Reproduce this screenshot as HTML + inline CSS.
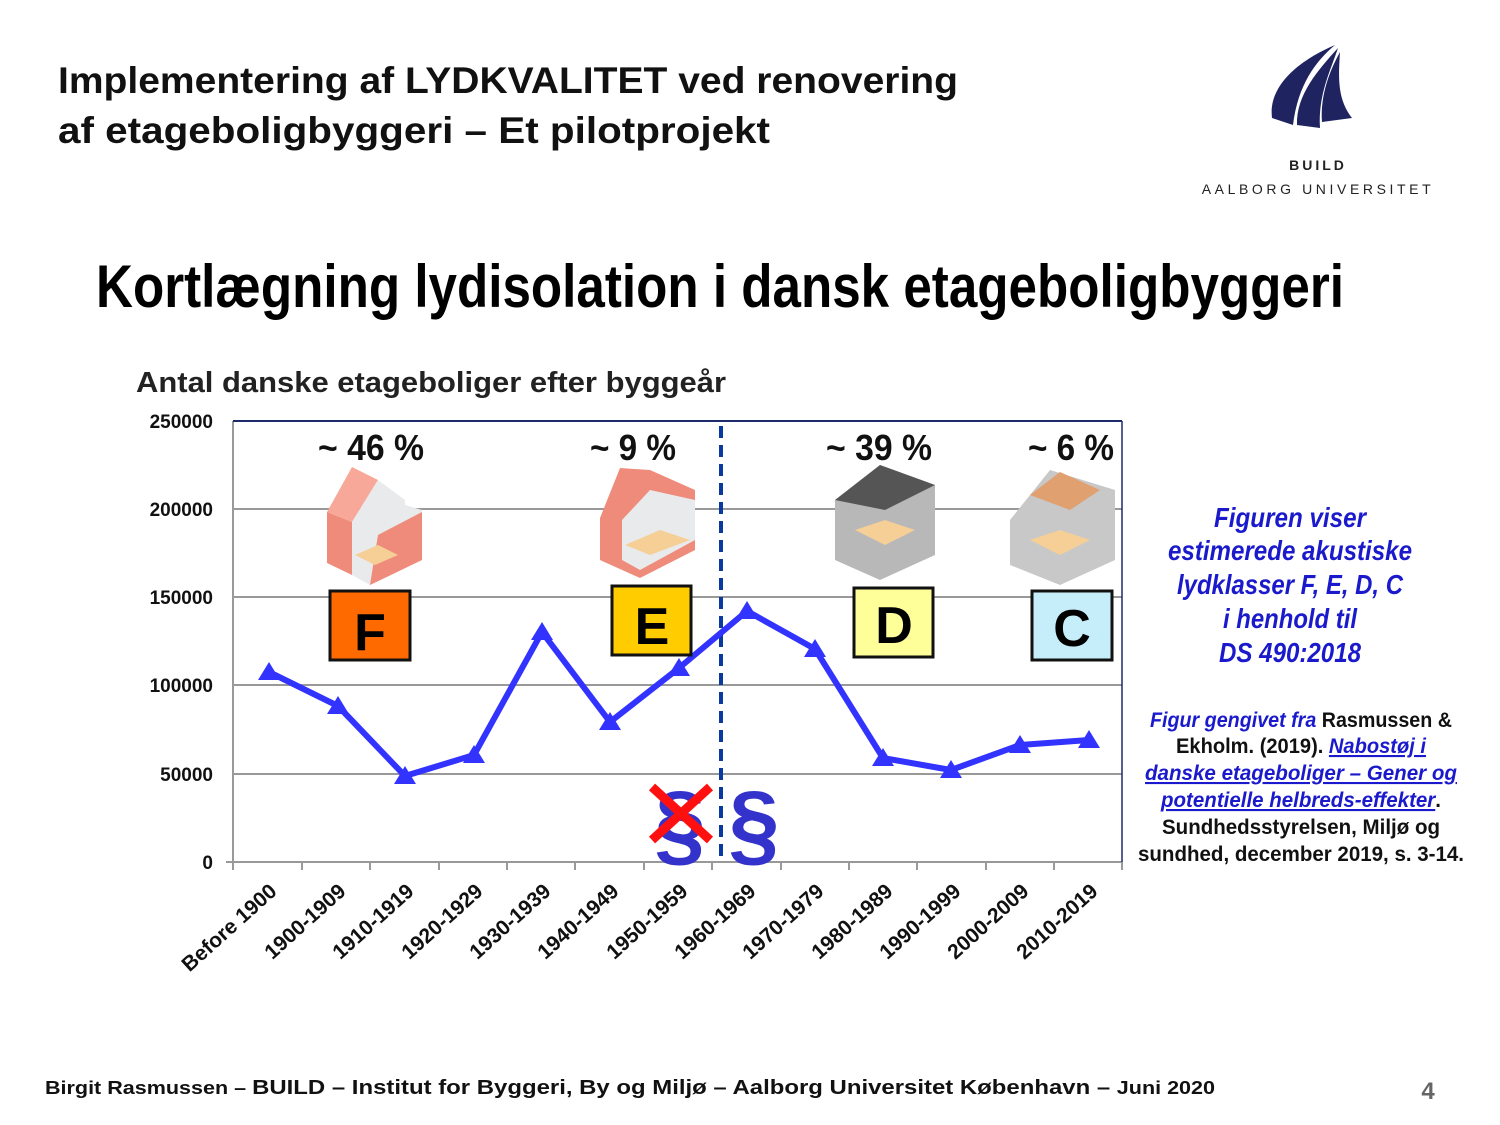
<!DOCTYPE html>
<html><head><meta charset="utf-8"><style>
html,body{margin:0;padding:0;background:#fff;}
svg{display:block}
text{font-family:"Liberation Sans",sans-serif;}
</style></head><body>
<svg width="1500" height="1125" viewBox="0 0 1500 1125" xmlns="http://www.w3.org/2000/svg">
<rect width="1500" height="1125" fill="#fff"/>
<text x="58" y="93" font-size="37" font-weight="bold" fill="#111" textLength="900" lengthAdjust="spacingAndGlyphs">Implementering af LYDKVALITET ved renovering</text>
<text x="58" y="143" font-size="37" font-weight="bold" fill="#111" textLength="712" lengthAdjust="spacingAndGlyphs">af etageboligbyggeri – Et  pilotprojekt</text>
<g fill="#1f2460">
<path d="M1272,118 C1268,85 1300,60 1335,45 C1315,62 1298,85 1293,125 Z"/>
<path d="M1297,125 C1296,95 1318,70 1338,48 C1330,72 1318,95 1320,128 Z"/>
<path d="M1322,122 C1320,95 1330,70 1340,52 C1338,80 1338,100 1352,118 Z"/>
</g>
<text x="1318" y="170" font-size="14" font-weight="bold" fill="#222" text-anchor="middle" letter-spacing="3">BUILD</text>
<text x="1318" y="194" font-size="14" fill="#222" text-anchor="middle" letter-spacing="3.6">AALBORG UNIVERSITET</text>
<text x="96" y="307" font-size="60" font-weight="bold" fill="#000" textLength="1248" lengthAdjust="spacingAndGlyphs">Kortlægning lydisolation i dansk etageboligbyggeri</text>
<text x="136" y="392" font-size="29" font-weight="bold" fill="#222" textLength="590" lengthAdjust="spacingAndGlyphs">Antal danske etageboliger efter byggeår</text>
<g stroke="#999" stroke-width="2">
<line x1="233" y1="509" x2="1122" y2="509"/>
<line x1="233" y1="597" x2="1122" y2="597"/>
<line x1="233" y1="685" x2="1122" y2="685"/>
<line x1="233" y1="774" x2="1122" y2="774"/>
<line x1="226" y1="862" x2="1122" y2="862"/>
<line x1="233" y1="421" x2="233" y2="862"/>
</g>
<line x1="233" y1="421" x2="1122" y2="421" stroke="#1f2a6b" stroke-width="2"/>
<line x1="1122" y1="421" x2="1122" y2="862" stroke="#1f2a6b" stroke-width="1.5"/>
<g stroke="#999" stroke-width="2">
<line x1="233" y1="862" x2="233" y2="870"/><line x1="302" y1="862" x2="302" y2="870"/><line x1="370" y1="862" x2="370" y2="870"/><line x1="439" y1="862" x2="439" y2="870"/><line x1="507" y1="862" x2="507" y2="870"/><line x1="575" y1="862" x2="575" y2="870"/><line x1="644" y1="862" x2="644" y2="870"/><line x1="712" y1="862" x2="712" y2="870"/><line x1="781" y1="862" x2="781" y2="870"/><line x1="849" y1="862" x2="849" y2="870"/><line x1="917" y1="862" x2="917" y2="870"/><line x1="986" y1="862" x2="986" y2="870"/><line x1="1054" y1="862" x2="1054" y2="870"/><line x1="1122" y1="862" x2="1122" y2="870"/>
</g>
<g font-size="19" font-weight="bold" fill="#111" text-anchor="end">
<text x="213" y="428">250000</text><text x="213" y="516">200000</text><text x="213" y="604">150000</text><text x="213" y="692">100000</text><text x="213" y="781">50000</text><text x="213" y="869">0</text>
</g>
<g font-size="21" font-weight="bold" fill="#111" text-anchor="end">
<text transform="translate(278,893) rotate(-42)">Before 1900</text>
<text transform="translate(347,893) rotate(-42)">1900-1909</text>
<text transform="translate(415,893) rotate(-42)">1910-1919</text>
<text transform="translate(484,893) rotate(-42)">1920-1929</text>
<text transform="translate(552,893) rotate(-42)">1930-1939</text>
<text transform="translate(620,893) rotate(-42)">1940-1949</text>
<text transform="translate(689,893) rotate(-42)">1950-1959</text>
<text transform="translate(757,893) rotate(-42)">1960-1969</text>
<text transform="translate(825,893) rotate(-42)">1970-1979</text>
<text transform="translate(894,893) rotate(-42)">1980-1989</text>
<text transform="translate(962,893) rotate(-42)">1990-1999</text>
<text transform="translate(1030,893) rotate(-42)">2000-2009</text>
<text transform="translate(1099,893) rotate(-42)">2010-2019</text>
</g>
<line x1="721" y1="426" x2="721" y2="858" stroke="#0a3aa0" stroke-width="4" stroke-dasharray="12,7"/>
<polyline fill="none" stroke="#3333ff" stroke-width="6" stroke-linejoin="round" points="269,672 338,706 405,776 474,755 542,632 610,722 679,668 747,611 815,649 883,758 951,770 1020,745 1089,740"/>
<g fill="#3333ff">
<path d="M269,662 l-11,18 h22z"/><path d="M338,696 l-11,18 h22z"/><path d="M405,766 l-11,18 h22z"/><path d="M474,745 l-11,18 h22z"/><path d="M542,622 l-11,18 h22z"/><path d="M610,712 l-11,18 h22z"/><path d="M679,658 l-11,18 h22z"/><path d="M747,601 l-11,18 h22z"/><path d="M815,639 l-11,18 h22z"/><path d="M883,748 l-11,18 h22z"/><path d="M951,760 l-11,18 h22z"/><path d="M1020,735 l-11,18 h22z"/><path d="M1089,730 l-11,18 h22z"/>
</g>
<g font-size="36" font-weight="bold" fill="#111">
<text x="318" y="460" textLength="106" lengthAdjust="spacingAndGlyphs">~ 46 %</text>
<text x="590" y="460" textLength="86" lengthAdjust="spacingAndGlyphs">~ 9 %</text>
<text x="826" y="460" textLength="106" lengthAdjust="spacingAndGlyphs">~ 39 %</text>
<text x="1028" y="460" textLength="86" lengthAdjust="spacingAndGlyphs">~ 6 %</text>
</g>
<g>
<polygon points="327,512 352,467 378,480 352,522" fill="#f7a898"/>
<polygon points="327,512 352,522 352,575 327,563" fill="#ef8b7a"/>
<polygon points="352,522 378,480 405,500 405,505 422,510 422,560 370,585 352,575" fill="#e8eaec"/>
<polygon points="378,535 422,512 422,560 370,585" fill="#ef8b7a"/>
<polygon points="355,555 378,545 398,555 375,565" fill="#f5cf95"/>
<polygon points="600,518 620,468 650,470 695,490 695,550 640,578 600,560" fill="#ef8b7a"/>
<polygon points="622,520 650,490 695,500 695,540 640,570 622,560" fill="#e8eaec"/>
<polygon points="625,545 660,530 690,540 650,555" fill="#f5cf95"/>
<polygon points="835,500 880,465 935,485 935,555 880,580 835,560" fill="#b8b8b8"/>
<polygon points="835,500 880,465 935,485 885,510" fill="#555"/>
<polygon points="855,530 885,520 915,530 885,545" fill="#f5cf95"/>
<polygon points="1010,520 1050,470 1115,490 1115,560 1060,585 1010,565" fill="#c8c8c8"/>
<polygon points="1030,495 1060,472 1100,490 1070,510" fill="#e0a070"/>
<polygon points="1030,540 1060,530 1090,540 1060,555" fill="#f5cf95"/>
</g>
<rect x="330" y="591" width="80" height="69" fill="#ff6a00" stroke="#111" stroke-width="3"/>
<text x="370" y="650" font-size="52" font-weight="bold" text-anchor="middle" fill="#000">F</text>
<rect x="612" y="586" width="79" height="69" fill="#ffcc00" stroke="#111" stroke-width="3"/>
<text x="652" y="644" font-size="52" font-weight="bold" text-anchor="middle" fill="#000">E</text>
<rect x="854" y="588" width="79" height="69" fill="#ffff99" stroke="#111" stroke-width="3"/>
<text x="894" y="643" font-size="52" font-weight="bold" text-anchor="middle" fill="#000">D</text>
<rect x="1032" y="591" width="80" height="69" fill="#c6eefa" stroke="#111" stroke-width="3"/>
<text x="1072" y="646" font-size="52" font-weight="bold" text-anchor="middle" fill="#000">C</text>
<text x="680" y="855" font-size="92" font-weight="bold" text-anchor="middle" fill="#3333cc">§</text>
<g stroke="#ff1010" stroke-width="9"><line x1="652" y1="787" x2="710" y2="840"/><line x1="710" y1="787" x2="652" y2="840"/></g>
<text x="754" y="855" font-size="92" font-weight="bold" text-anchor="middle" fill="#3333cc">§</text>
<g font-size="28" font-weight="bold" font-style="italic" fill="#1a1acc" text-anchor="middle">
<text x="1290" y="527" textLength="152" lengthAdjust="spacingAndGlyphs">Figuren viser</text>
<text x="1290" y="560" textLength="244" lengthAdjust="spacingAndGlyphs">estimerede akustiske</text>
<text x="1290" y="594" textLength="226" lengthAdjust="spacingAndGlyphs">lydklasser F, E, D, C</text>
<text x="1290" y="628" textLength="134" lengthAdjust="spacingAndGlyphs">i henhold til</text>
<text x="1290" y="662" textLength="142" lengthAdjust="spacingAndGlyphs">DS 490:2018</text>
</g>
<g font-size="21" font-weight="bold" text-anchor="middle">
<text x="1301" y="727" textLength="302" lengthAdjust="spacingAndGlyphs"><tspan fill="#1a1acc" font-style="italic">Figur gengivet fra</tspan><tspan fill="#111"> Rasmussen &amp;</tspan></text>
<text x="1301" y="753" textLength="250" lengthAdjust="spacingAndGlyphs"><tspan fill="#111">Ekholm. (2019). </tspan><tspan fill="#1a1acc" font-style="italic" text-decoration="underline">Nabostøj i</tspan></text>
<text x="1301" y="780" textLength="312" lengthAdjust="spacingAndGlyphs" fill="#1a1acc" font-style="italic" text-decoration="underline">danske etageboliger – Gener og</text>
<text x="1301" y="807" textLength="280" lengthAdjust="spacingAndGlyphs"><tspan fill="#1a1acc" font-style="italic" text-decoration="underline">potentielle helbreds-effekter</tspan><tspan fill="#111">.</tspan></text>
<text x="1301" y="834" textLength="278" lengthAdjust="spacingAndGlyphs" fill="#111">Sundhedsstyrelsen, Miljø og</text>
<text x="1301" y="861" textLength="326" lengthAdjust="spacingAndGlyphs" fill="#111">sundhed, december 2019, s. 3-14.</text>
</g>
<text x="45" y="1094" font-size="20" font-weight="bold" fill="#111" textLength="1170" lengthAdjust="spacingAndGlyphs"><tspan font-size="18">Birgit Rasmussen  –  </tspan>BUILD  –  Institut for Byggeri, By og Miljø  –  Aalborg Universitet København  –  <tspan font-size="18">Juni 2020</tspan></text>
<text x="1428" y="1099" font-size="24" font-weight="bold" fill="#666" text-anchor="middle">4</text>
</svg>
</body></html>
